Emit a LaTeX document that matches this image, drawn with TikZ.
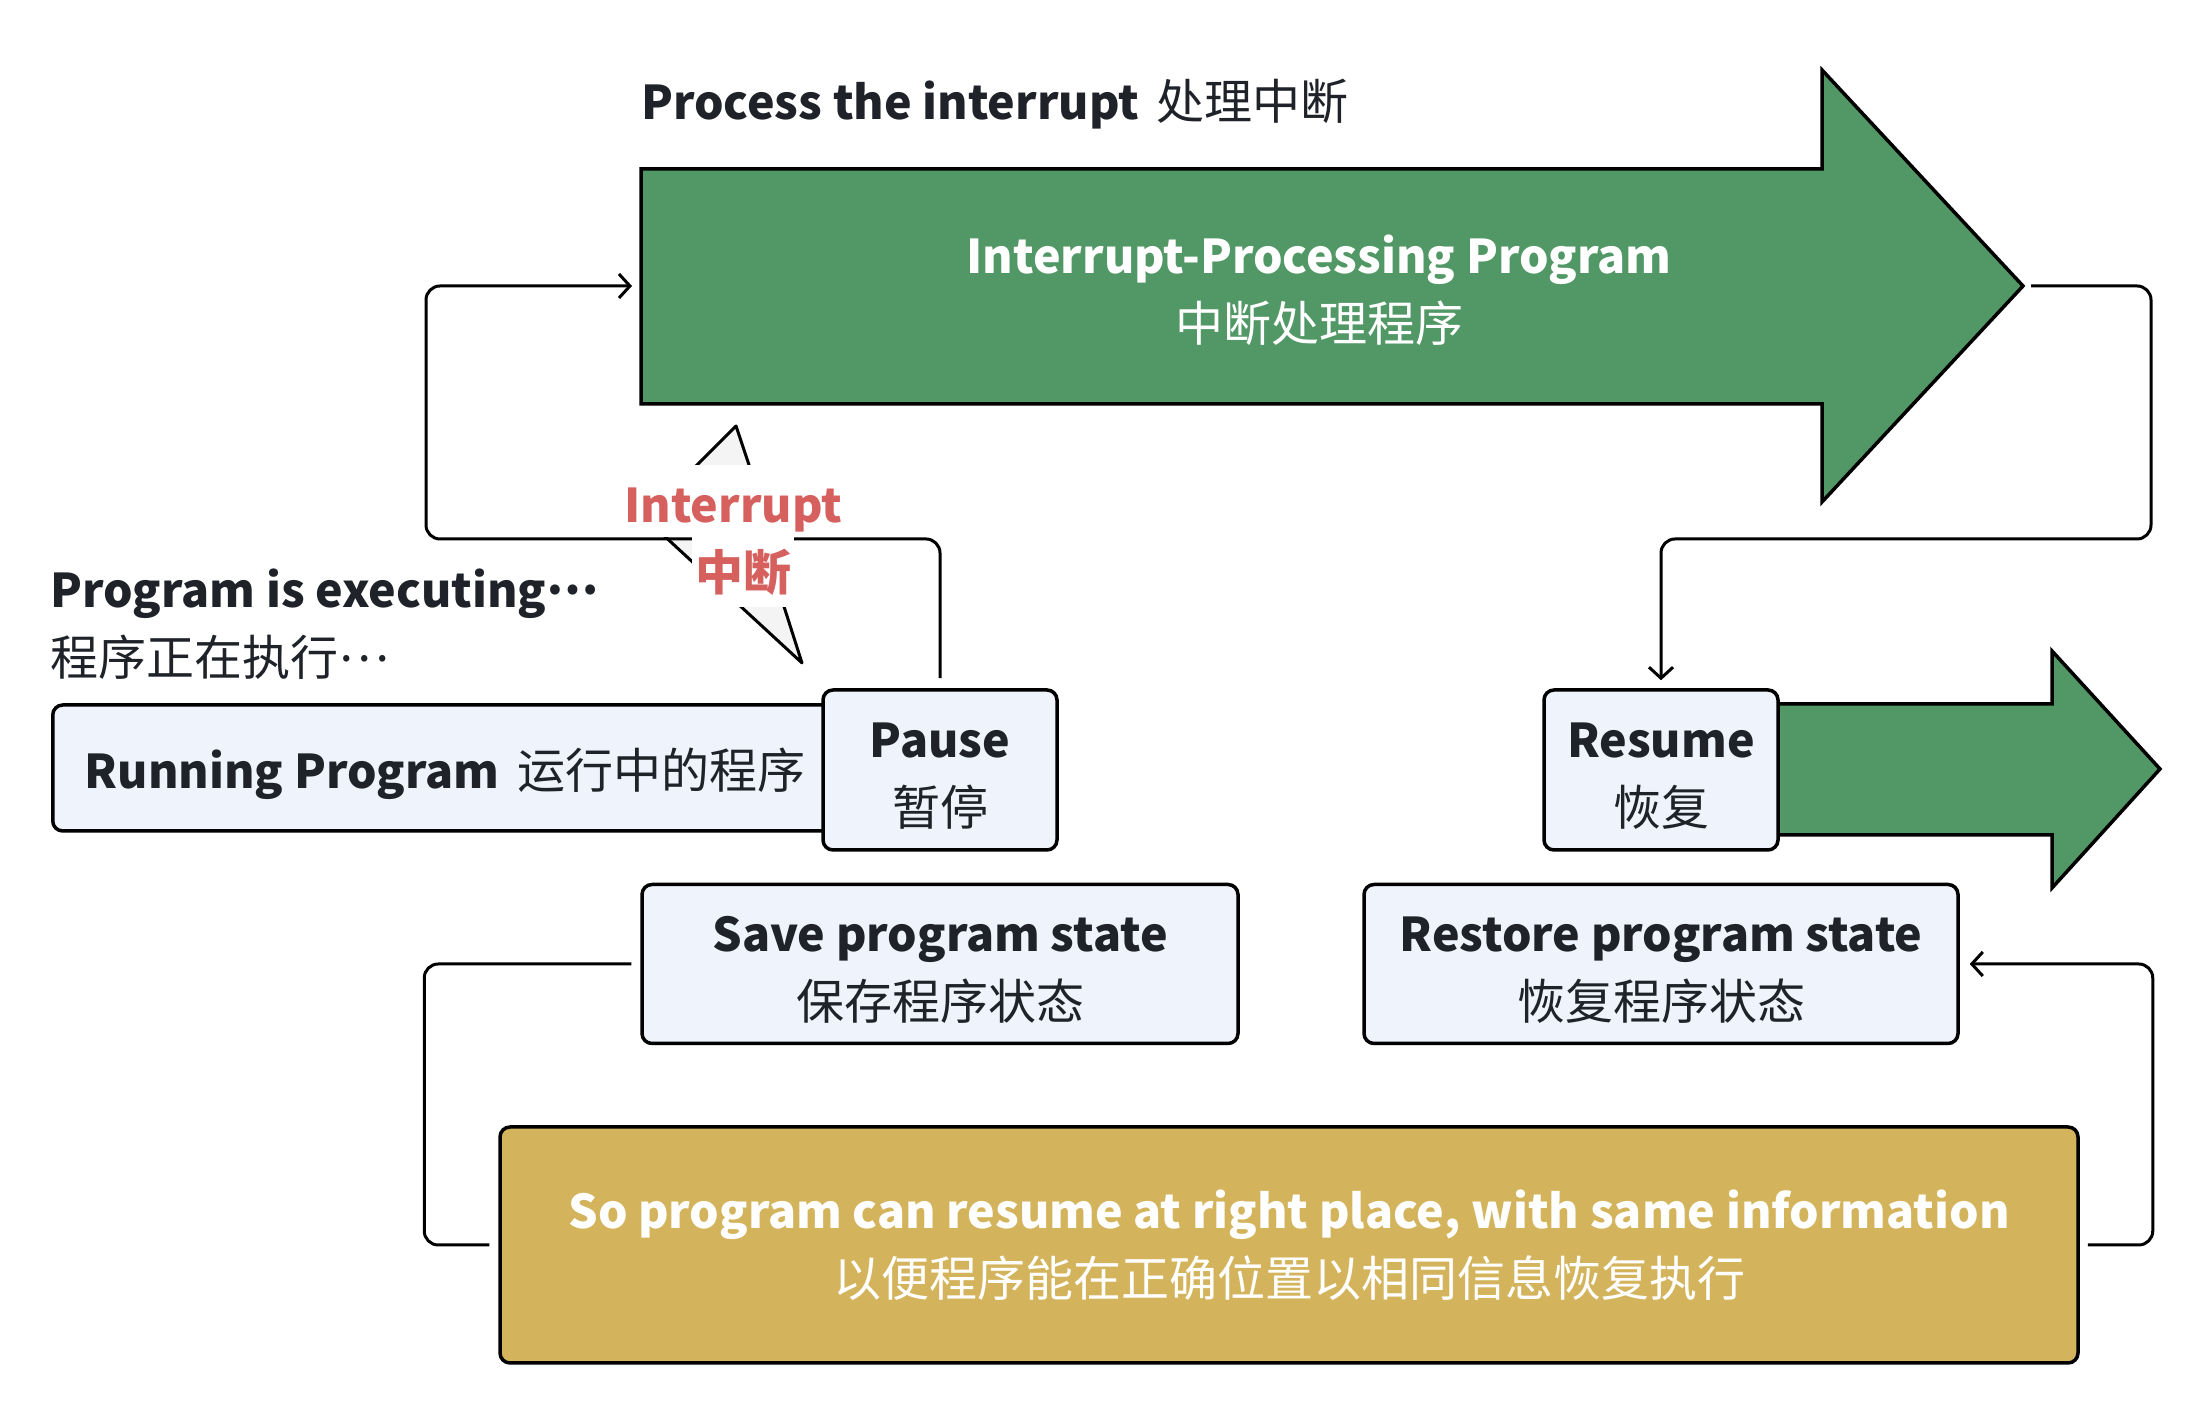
\documentclass[tikz,border=0pt]{standalone}
\usepackage{fontspec}
\setmainfont{Noto Sans CJK SC}
\usetikzlibrary{arrows.meta,positioning}
\definecolor{ippgreen}{HTML}{529866}
\definecolor{goldfill}{HTML}{D3B45C}
\definecolor{boxfill}{HTML}{EEF3FC}
\definecolor{inkdark}{HTML}{1F2329}
\definecolor{alertred}{HTML}{D6605E}
\definecolor{boltgray}{HTML}{F4F4F4}
% bold latin line, a bit narrower than the cjk size
\newcommand{\bt}[1]{{\fontsize{46.5}{68}\selectfont\bfseries #1}}
\newcommand{\midots}{\raisebox{.28em}{…}}
\newcommand{\topstrut}{\rule{0pt}{47pt}}
\tikzset{
    %Define standard arrow tip
    >={Straight Barb[length=11pt,width=24pt]},
    % Define connector style
    link/.style={
           line width=3pt,
           rounded corners=14pt,}
}

\begin{document}
\begin{tikzpicture}[
x=1pt, y=1pt,
font=\fontsize{48}{68}\selectfont,
statebox/.style={rectangle, rounded corners=10pt, draw=black, line width=3.5pt, fill=boxfill, text=inkdark, align=center},
bigarrow/.style={draw=black, line width=3.5pt, fill=ippgreen},
plain/.style={inner sep=0pt, text=inkdark},
redlabel/.style={fill=white, text=alertred, font=\fontsize{48}{68}\selectfont\bfseries, inner sep=3pt},
]
\useasboundingbox (0,0) rectangle (2209,1412);

%Interrupt-processing arrow
\draw[bigarrow] (641,1243) -- (1822,1243) -- (1822,1342) -- (2023,1126) -- (1822,910) -- (1822,1008) -- (641,1008) -- cycle;
\coordinate (ipp west) at (641,1126);
\coordinate (ipp tip) at (2023,1126);
\node[text=white, align=center] (ipp) at (1319,1122) {\bt{Interrupt-Processing Program}\\中断处理程序};
\node[plain, anchor=base west] (title) at (641,1292) {\bt{Process the interrupt}\hspace{18pt}处理中断};

%Lightning
\draw[line width=3pt, fill=boltgray, line join=round] (736,986) -- (688,938) -- (712,930) -- (660,880) -- (802,749) -- (758,887) -- (766,896) -- cycle;

%Left side
\node[plain, anchor=west, align=left] (exec) at (50,788) {\bt{Program is executing\midots}\\程序正在执行\midots};
\node[statebox, anchor=west, minimum height=126pt, text width=770pt, inner xsep=32pt, align=flush left, text depth=0pt] (run) at (51,644) {\bt{Running Program}\hspace{18pt}运行中的程序};
\node[statebox, minimum width=234pt, minimum height=160pt] (pause) at (940,642) {\topstrut\bt{Pause}\\暂停};

%Right side
\draw[bigarrow] (1760,708) -- (2052,708) -- (2052,761) -- (2160,643) -- (2052,524) -- (2052,577) -- (1760,577) -- cycle;
\node[statebox, minimum width=234pt, minimum height=160pt] (resume) at (1661,642) {\topstrut\bt{Resume}\\恢复};

%State boxes
\node[statebox, minimum width=596pt, minimum height=159pt] (save) at (940,448) {\topstrut\bt{Save program state}\\保存程序状态};
\node[statebox, minimum width=594pt, minimum height=159pt] (restore) at (1661,448) {\topstrut\bt{Restore program state}\\恢复程序状态};
\node[statebox, fill=goldfill, text=white, minimum width=1578pt, minimum height=236pt] (gold) at (1289,167) {\bt{So program can resume at right place, with same information}\\以便程序能在正确位置以相同信息恢复执行};

%Connectors
\draw[link, ->] ([yshift=10pt]pause.north) |- (426,873) |- ([xshift=-9pt]ipp west);
\draw[link, ->] ([xshift=8pt]ipp tip) -| (2151,873) -| ([yshift=8pt]resume.north);
\draw[link] ([xshift=-9pt]save.west) -| ([xshift=-74pt]gold.west) -- ([xshift=-9pt]gold.west);
\draw[link, ->] ([xshift=8pt]gold.east) -| ([xshift=193pt]restore.east) -- ([xshift=10pt]restore.east);

%Interrupt label
\node[redlabel, minimum height=72pt, text height=44pt, text depth=0pt] (intr) at (733,911) {\bt{Interrupt}};
\node[redlabel, minimum height=70pt, below=0pt of intr, xshift=10pt] (intr cn) {中断};

\end{tikzpicture}
\end{document}
